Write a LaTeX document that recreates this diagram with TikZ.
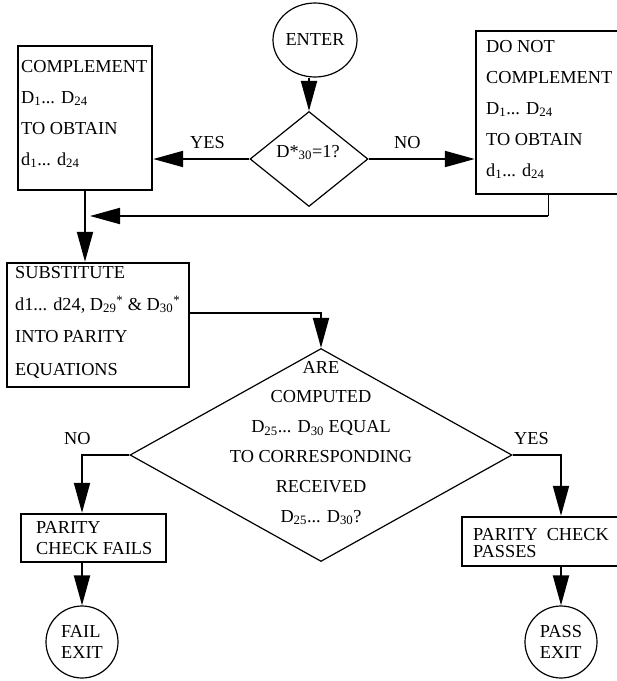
\documentclass[tikz,border=0pt]{standalone}
\usepackage{fontspec}
\setmainfont{Liberation Serif}
\usetikzlibrary{arrows.meta,shapes.geometric}

\tikzset{
  procbox/.style={draw, line width=2.4pt, inner sep=0pt},
  decision/.style={draw, diamond, line width=1.2pt, inner sep=0pt},
  terminal/.style={draw, ellipse, line width=1.2pt, inner sep=0pt, align=left,
    font=\fontsize{18.3}{21}\selectfont},
  % placed by the baseline of the last line
  boxtext/.style={inner sep=0pt, align=left, anchor=base west},
  flow/.style={line width=2pt, -{Triangle[length=30pt,width=16pt]}},
  feed/.style={line width=1pt},
  branch/.style={inner sep=0pt, anchor=base west, font=\fontsize{18.3}{22}\selectfont},
}

\begin{document}
\begin{tikzpicture}[x=1pt, y=-1pt, font=\fontsize{18.3}{31}\selectfont]
\useasboundingbox (0,0) rectangle (617,681);
\clip (0,0) rectangle (617,681);

% terminals and decisions
\node[terminal, minimum width=84pt, minimum height=74pt] (enter) at (315,40) {ENTER};
\node[decision, minimum width=118pt, minimum height=95pt] (d1) at (309,159) {};
\node[inner sep=0pt, anchor=base] (d1text) at (308,157) {D*\textsubscript{30}=1?};

% complement branches
\node[procbox, minimum width=134pt, minimum height=144pt] (comp) at (85,118) {};
\node[boxtext] (comptext) at (21,165)
  {COMPLEMENT\\D\textsubscript{1}... D\textsubscript{24}\\TO OBTAIN\\d\textsubscript{1}... d\textsubscript{24}};
\node[procbox, minimum width=144pt, minimum height=163pt] (nocomp) at (548,112.5) {};
\node[boxtext, font=\fontsize{18.3}{30.8}\selectfont] (nocomptext) at (486,176)
  {DO NOT\\COMPLEMENT\\D\textsubscript{1}... D\textsubscript{24}\\TO OBTAIN\\d\textsubscript{1}... d\textsubscript{24}};

% substitution
\node[procbox, minimum width=182pt, minimum height=124pt] (subst) at (98,325) {};
\node[boxtext, font=\fontsize{18.3}{32.3}\selectfont] (substtext) at (15,375)
  {SUBSTITUTE\\d1... d24, D\textsubscript{29}\textsuperscript{*} \& D\textsubscript{30}\textsuperscript{*}\\INTO PARITY\\EQUATIONS};

% parity comparison
\node[decision, minimum width=382pt, minimum height=213pt] (d2) at (321,455) {};
\node[inner sep=0pt, align=center, anchor=base, font=\fontsize{18.3}{29.8}\selectfont] (d2text) at (321,522)
  {ARE\\COMPUTED\\D\textsubscript{25}... D\textsubscript{30} EQUAL\\TO CORRESPONDING\\RECEIVED\\D\textsubscript{25}... D\textsubscript{30}?};

% outcomes
\node[procbox, minimum width=145pt, minimum height=48pt] (fail) at (93.5,538) {};
\node[boxtext, font=\fontsize{18.3}{21}\selectfont] (failtext) at (36,554) {PARITY\\CHECK FAILS};
\node[procbox, minimum width=158pt, minimum height=49pt] (pass) at (541,541.5) {};
\node[boxtext, font=\fontsize{18.3}{16.5}\selectfont] (passtext) at (473,557) {PARITY\hspace{0.5em}CHECK\\PASSES};
\node[terminal, circle, minimum size=72pt] (failexit) at (82,642) {FAIL\\EXIT};
\node[terminal, circle, minimum size=72pt] (passexit) at (561,642) {PASS\\EXIT};

% branch labels
\node[branch] (yes1) at (190,148) {YES};
\node[branch] (no1) at (394,148) {NO};
\node[branch] (no2) at (64,444) {NO};
\node[branch] (yes2) at (514,444) {YES};

% connectors
\coordinate (merge) at (85,216);
\draw[flow] (enter.south -| d1.north) -- (d1.north);
\draw[flow] (d1.west) -- (comp.east |- d1.west);
\draw[flow] (d1.east) -- (nocomp.west |- d1.east);
\draw[feed] (nocomp.south) -- (nocomp.south |- merge);
\draw[flow] (nocomp.south |- merge) -- ([xshift=5pt]merge);
\draw[flow] (comp.south) -- (comp.south |- subst.north);
\draw[flow] ([yshift=12pt]subst.east) -| (d2.north);
\draw[flow] (d2.west) -| (failexit.north |- fail.north);
\draw[flow] (fail.south -| failexit.north) -- (failexit.north);
\draw[flow] (d2.east) -| (passexit.north |- pass.north);
\draw[flow] (pass.south -| passexit.north) -- (passexit.north);
\end{tikzpicture}
\end{document}
